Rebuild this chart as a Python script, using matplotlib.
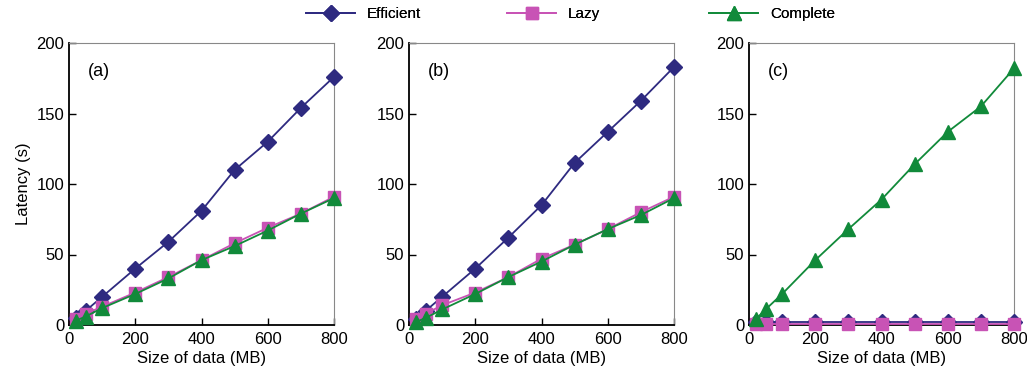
import matplotlib
matplotlib.use("Agg")
import matplotlib.pyplot as plt

plt.rcParams["font.family"] = ["Liberation Sans", "DejaVu Sans"]

# data sizes (MB)
sizes = [20, 50, 100, 200, 300, 400, 500, 600, 700, 800]

# panel (a)
eff_a = [5, 10, 20, 40, 59, 81, 110, 130, 154, 176]
lazy_a = [4, 8, 13, 23, 34, 46, 58, 69, 79, 91]
comp_a = [3, 6, 12, 22, 33, 46, 56, 67, 79, 90]

# panel (b)
eff_b = [4, 10, 20, 40, 62, 85, 115, 137, 159, 183]
lazy_b = [4, 8, 14, 23, 34, 47, 57, 68, 80, 91]
comp_b = [2, 5, 11, 22, 34, 45, 57, 68, 78, 90]

# panel (c)
eff_c = [2, 2, 2, 2, 2, 2, 2, 2, 2, 2]
lazy_c = [1, 1, 1, 1, 1, 1, 1, 1, 1, 1]
comp_c = [4, 11, 22, 46, 68, 89, 114, 137, 155, 182]

panels = [("(a)", eff_a, lazy_a, comp_a),
          ("(b)", eff_b, lazy_b, comp_b),
          ("(c)", eff_c, lazy_c, comp_c)]

c_eff = "#2e2a80"
c_lazy = "#c853b5"
c_comp = "#118a3a"

fig = plt.figure(figsize=(10.27, 3.76), dpi=100)
lefts = [69, 409, 749]
axes = []
for i, (tag, eff, lazy, comp) in enumerate(panels):
    ax = fig.add_axes([lefts[i] / 1027, 1 - 325 / 376, 265 / 1027, 282 / 376])
    series = [(eff, c_eff, "D", 8, "Efficient"), (lazy, c_lazy, "s", 9, "Lazy"),
              (comp, c_comp, "^", 10, "Complete")]
    for ys, col, mk, ms, lab in series:
        ax.plot(sizes, ys, color=col, marker=mk, markersize=ms, lw=1.3,
                label=lab, clip_on=False, zorder=3)
    ax.set_xlim(0, 800)
    ax.set_ylim(0, 200)
    ax.set_xticks([0, 200, 400, 600, 800])
    ax.set_yticks([0, 50, 100, 150, 200])
    ax.tick_params(direction="in", length=5, labelsize=12, width=1)
    ax.tick_params(axis="x", pad=5)
    for s in ["top", "right"]:
        ax.spines[s].set_color("#888888")
    for s in ["left", "bottom"]:
        ax.spines[s].set_linewidth(1.3)
    ax.set_xlabel("Size of data (MB)", fontsize=12, labelpad=3)
    ax.text(0.07, 0.93, tag, transform=ax.transAxes, fontsize=13, va="top")
    axes.append(ax)

axes[0].set_ylabel("Latency (s)", fontsize=12)

# one legend per entry so they sit evenly spaced
handles, labels = axes[0].get_legend_handles_labels()
leg_x = [300, 501, 703]
for h, l, x in zip(handles, labels, leg_x):
    lg = fig.legend([h], [l], loc="center left", bbox_to_anchor=(x / 1027, 1 - 14 / 376),
                    frameon=False, fontsize=11, handlelength=3.2, borderaxespad=0)
    fig.add_artist(lg)

fig.savefig("out.png", dpi=100)
